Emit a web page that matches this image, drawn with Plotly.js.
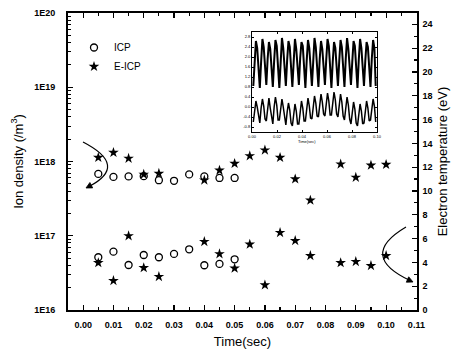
<!DOCTYPE html>
<html><head><meta charset="utf-8">
<script src="https://cdn.plot.ly/plotly-3.0.1.min.js"></script>
<style>html,body{margin:0;padding:0;background:#fff}#c{width:457px;height:356px}</style>
</head><body><div id="c"></div>
<script>
// ---- data ----
const icpTime = [0.005,0.01,0.015,0.02,0.025,0.03,0.035,0.04,0.045,0.05];
const icpDensity = [6.8e17,6.2e17,6.3e17,6.35e17,5.6e17,5.5e17,6.7e17,6.3e17,6.0e17,6.0e17];
const icpTe = [4.43,4.90,3.78,4.62,4.43,4.71,5.10,3.76,3.87,4.26];
const eicpTime = [0.005,0.01,0.015,0.02,0.025,0.04,0.045,0.05,0.055,0.06,0.065,0.07,0.075,0.085,0.09,0.095,0.10];
const eicpDensity = [1.13e18,1.32e18,1.1e18,6.7e17,6.9e17,5.6e17,7.6e17,9.4e17,1.19e18,1.42e18,1.13e18,5.8e17,3.0e17,9.2e17,6.1e17,8.9e17,9.1e17];
const eicpTe = [3.97,2.46,6.22,3.55,2.80,5.74,4.71,3.50,5.52,2.10,6.50,5.82,4.56,3.97,4.06,3.72,4.56];
const densityTickVals = [1e16,1e17,1e18,1e19,1e20];
const densityTickText = ["1E16","1E17","1E18","1E19","1E20"];
const seriesNames = ["ICP","E-ICP"];
// inset waveform
const insetTop = [
46,72,91,84,62, 44,70,93,85,60, 47,73,90,83,63, 45,71,92,86,61,
44,69,94,84,59, 46,72,91,85,62, 45,70,93,83,60, 47,74,90,86,63,
44,71,92,84,61, 46,70,94,85,59, 45,73,91,83,62, 47,72,93,86,60,
44,70,90,84,63, 46,71,92,85,61, 45,73,94,83,59, 47,70,91,86,62,
44,72,93,84,60, 46,71,90,85,63, 45,73,92,84,46];
const insetBottom = [
10,22,31,25,14, 9,24,33,26,13, 11,23,34,24,14, 8,25,35,27,12,
12,24,33,25,13, 7,20,29,22,9, 6,19,28,21,8, 8,22,31,24,11,
11,25,34,26,14, 13,27,36,29,16, 15,29,38,30,18, 16,30,39,31,17,
17,31,40,32,18, 15,29,38,30,16, 12,26,35,27,13, 8,21,30,23,9,
6,19,28,21,8, 9,22,31,24,11, 12,24,33,26,10];
const insetXTicks = ["0.00","0.02","0.04","0.06","0.08","0.10"];
const insetYTicks = ["-0.8","-0.4","0.0","0.4","0.8","1.2","1.6","2.0","2.4","2.8"];

// minor tick positions for the log axis (2..9 within each decade)
const minorLog = [];
for (let d = 16; d < 20; d++) for (let m = 2; m <= 9; m++) minorLog.push(m * Math.pow(10, d));

const tickFont = {family:'"Liberation Sans", Arial, sans-serif', size:9, color:'#000', weight:'bold'};
const titleFont = {family:'"Liberation Sans", Arial, sans-serif', size:13, color:'#000'};

const traces = [
 {x:icpTime, y:icpDensity, name:seriesNames[0], mode:'markers', type:'scatter', xaxis:'x', yaxis:'y',
  marker:{symbol:'circle-open', size:7, color:'#000', line:{width:1.3,color:'#000'}}},
 {x:eicpTime, y:eicpDensity, name:seriesNames[1], mode:'markers', type:'scatter', xaxis:'x', yaxis:'y',
  marker:{symbol:'star', size:8, color:'#000', line:{width:0}}},
 {x:icpTime, y:icpTe, name:seriesNames[0], mode:'markers', type:'scatter', xaxis:'x', yaxis:'y2', showlegend:false,
  marker:{symbol:'circle-open', size:7, color:'#000', line:{width:1.3,color:'#000'}}},
 {x:eicpTime, y:eicpTe, name:seriesNames[1], mode:'markers', type:'scatter', xaxis:'x', yaxis:'y2', showlegend:false,
  marker:{symbol:'star', size:8, color:'#000', line:{width:0}}},
 {y:insetTop, mode:'lines', type:'scatter', xaxis:'x2', yaxis:'y3', showlegend:false, hoverinfo:'skip',
  line:{color:'#000', width:2}},
 {y:insetBottom, mode:'lines', type:'scatter', xaxis:'x2', yaxis:'y3', showlegend:false, hoverinfo:'skip',
  line:{color:'#000', width:1.5}},
 {x:[icpTime[0]], y:[icpDensity[0]], mode:'markers', type:'scatter', xaxis:'x', yaxis:'y4', showlegend:false,
  hoverinfo:'skip', marker:{opacity:0}}
];

const L = 68, R = 417, T = 13, B = 310;
function px(x){return (x-L)/(R-L);} function py(y){return (B-y)/(B-T);}
function P(x,y){return px(x)+' '+py(y);}

const layout = {
 width:457, height:356, margin:{l:L, r:457-R, t:T, b:356-B},
 paper_bgcolor:'#fff', plot_bgcolor:'#fff', showlegend:true,
 xaxis:{range:[-0.005,0.1102], tickvals:[0,0.01,0.02,0.03,0.04,0.05,0.06,0.07,0.08,0.09,0.10,0.11],
  tickformat:'.2f', ticks:'inside', ticklen:5, tickwidth:1.2, tickcolor:'#000', ticklabelstandoff:5,
  minor:{ticks:'inside', ticklen:3, dtick:0.005, tick0:0, tickcolor:'#000'},
  showline:true, linecolor:'#000', linewidth:1.8, mirror:'ticks', showgrid:false, zeroline:false,
  tickfont:tickFont, title:{text:'Time(sec)', font:titleFont, standoff:8}},
 yaxis:{type:'log', range:[16,20], tickvals:densityTickVals, ticktext:densityTickText,
  ticks:'inside', ticklen:5, tickwidth:1.2, tickcolor:'#000', ticklabelstandoff:9,
  showline:true, linecolor:'#000', linewidth:1.8, showgrid:false, zeroline:false,
  tickfont:tickFont, title:{text:'Ion density (/m<sup>3</sup>)', font:titleFont, standoff:8}},
 yaxis4:{type:'log', range:[16,20], overlaying:'y', side:'left', tickvals:minorLog, showticklabels:false,
  ticks:'inside', ticklen:3, tickwidth:1, tickcolor:'#000', showline:false, showgrid:false, zeroline:false},
 yaxis2:{overlaying:'y', side:'right', range:[0,24.95], tickvals:[0,2,4,6,8,10,12,14,16,18,20,22,24],
  ticks:'inside', ticklen:5, tickwidth:1.2, tickcolor:'#000', ticklabelstandoff:2,
  minor:{ticks:'inside', ticklen:3, dtick:1, tick0:0, tickcolor:'#000'},
  showline:true, linecolor:'#000', linewidth:1.8, showgrid:false, zeroline:false,
  tickfont:tickFont, title:{text:'Electron temperature (eV)', font:titleFont, standoff:6}},
 xaxis2:{domain:[px(252),px(377)], anchor:'y3', range:[-1,95], showgrid:false, zeroline:false,
  showline:true, linecolor:'#000', linewidth:1, mirror:'ticks', ticks:'inside', ticklen:2, tickcolor:'#000',
  tickvals:[-1,18.2,37.4,56.6,75.8,95], ticktext:insetXTicks,
  tickfont:{family:'Arial', size:4, color:'#000'}},
 yaxis3:{domain:[py(132),py(32)], anchor:'x2', range:[0,100], showgrid:false, zeroline:false,
  showline:true, linecolor:'#000', linewidth:1, mirror:'ticks', ticks:'inside', ticklen:2, tickcolor:'#000',
  tickvals:[5,15,25,35,45,55,65,75,85,95], ticktext:insetYTicks,
  tickfont:{family:'Arial', size:4, color:'#000'}},
 legend:{x:px(74), y:py(33), xanchor:'left', yanchor:'top', bgcolor:'rgba(0,0,0,0)',
  font:{family:'"Liberation Sans", Arial, sans-serif', size:10, color:'#000'}, itemwidth:30, tracegroupgap:0},
 shapes:[
  {type:'path', xref:'paper', yref:'paper',
   path:'M '+P(83,142)+' Q '+P(129,165.7)+' '+P(89,186.5), line:{color:'#000', width:1.2}},
  {type:'path', xref:'paper', yref:'paper',
   path:'M '+P(86,188)+' L '+P(92.7,187.9)+' L '+P(89.9,182.5)+' Z',
   line:{color:'#000', width:0.8}, fillcolor:'#000'},
  {type:'path', xref:'paper', yref:'paper',
   path:'M '+P(406,227)+' Q '+P(357,256)+' '+P(411,281), line:{color:'#000', width:1.2}},
  {type:'path', xref:'paper', yref:'paper',
   path:'M '+P(413,282)+' L '+P(406.3,282.2)+' L '+P(408.7,276.8)+' Z',
   line:{color:'#000', width:0.8}, fillcolor:'#000'}
 ],
 annotations:[
  {xref:'paper', yref:'paper', x:px(318), y:py(141), text:'Time(sec)', showarrow:false,
   font:{family:'Arial', size:4, color:'#000'}}
 ]
};
Plotly.newPlot('c', traces, layout, {staticPlot:true, displayModeBar:false});
</script></body></html>
